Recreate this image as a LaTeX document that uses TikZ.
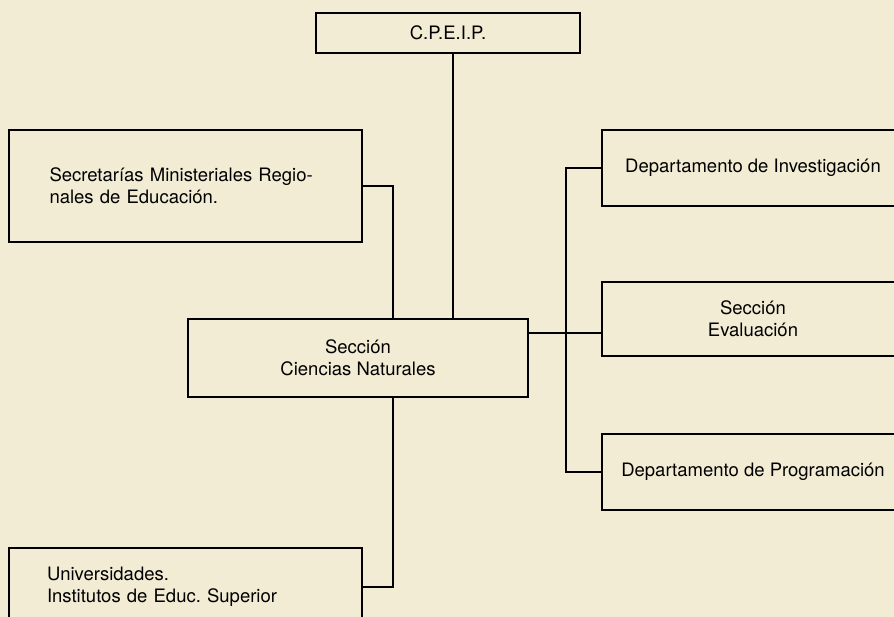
\documentclass[tikz,border=0pt]{standalone}
\usepackage{fontspec}
\setmainfont{TeX Gyre Heros}
\definecolor{paper}{RGB}{242,236,212}
\begin{document}
\begin{tikzpicture}[x=1pt, y=-1pt,
  box/.style={draw, rectangle, line width=1.5pt, inner sep=0pt},
  link/.style={line width=1.2pt},
  font=\fontsize{18.5}{22}\selectfont]
\useasboundingbox (0,0) rectangle (894,617);
\fill[paper] (0,0) rectangle (894,617);
\clip (0,0) rectangle (894,617);
\node[box, minimum width=264pt, minimum height=40pt] (cpeip) at (448,33) {C.P.E.I.P.};
\node[box, minimum width=353pt, minimum height=112pt, text width=272pt, align=left] (secr) at (185.5,186) {Secretarías Ministeriales Regio-\\nales de Educación.};
\node[box, minimum width=340pt, minimum height=78pt, align=center] (seccion) at (358,358) {Sección\\Ciencias Naturales};
\node[box, minimum width=353pt, minimum height=78pt, text width=277pt, align=left] (univ) at (185.5,587) {Universidades.\\Institutos de Educ.\ Superior};
\node[box, minimum width=302pt, minimum height=76pt] (inv) at (753,168) {Departamento de Investigación};
\node[box, minimum width=302pt, minimum height=74pt, align=center] (eval) at (753,319) {Sección\\Evaluación};
\node[box, minimum width=302pt, minimum height=76pt] (prog) at (753,472) {Departamento de Programación};
\coordinate (lbus) at (393,358);
\coordinate (rbus) at (566,333);
\draw[link] ([xshift=5pt]cpeip.south) -- ([xshift=5pt]cpeip.south |- seccion.north);
\draw[link] (secr.east) -| (lbus |- seccion.north);
\draw[link] (lbus |- seccion.south) |- (univ.east);
\draw[link] (seccion.east |- rbus) -- (eval.west |- rbus);
\draw[link] (inv.west) -| (rbus) |- (prog.west);
\end{tikzpicture}
\end{document}
